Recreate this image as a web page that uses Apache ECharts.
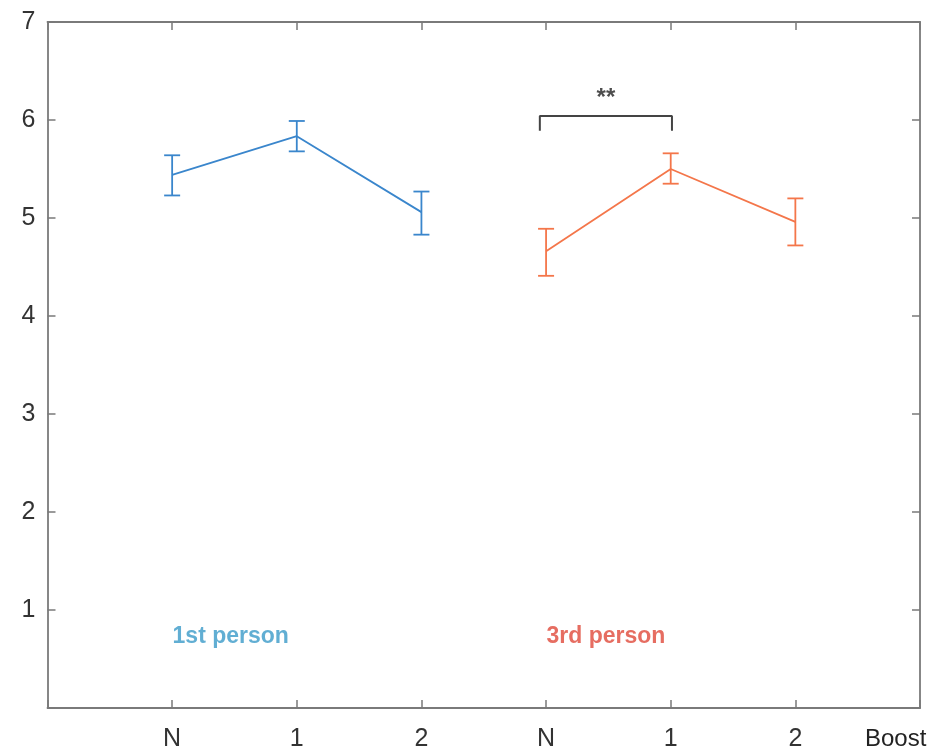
<!DOCTYPE html>
<html>
<head>
<meta charset="utf-8">
<script src="https://cdn.jsdelivr.net/npm/echarts@6/dist/echarts.min.js"></script>
<style>html,body{margin:0;padding:0;background:#fff}#c{width:933px;height:752px}</style>
</head>
<body>
<div id="c"></div>
<script>
// categories (tick labels at x positions 1..6)
const tickLabels = ['N', '1', '2', 'N', '1', '2'];
const firstX = [1, 2, 3];
const thirdX = [4, 5, 6];
// 1st person means and error bar bounds
const firstMean = [5.44, 5.835, 5.06];
const firstLow  = [5.23, 5.68, 4.83];
const firstHigh = [5.64, 5.99, 5.27];
// 3rd person means and error bar bounds
const thirdMean = [4.66, 5.50, 4.96];
const thirdLow  = [4.41, 5.35, 4.72];
const thirdHigh = [4.89, 5.66, 5.20];
// significance bracket (data units)
const bracketX = [3.95, 5.01];
const bracketY = [5.89, 6.04];
const starText = '**';
const starPos = [4.48, 6.22];
const groupLabels = ['1st person', '3rd person'];
const groupLabelPos = [[1.47, 0.73], [4.48, 0.73]];
const yTicks = [1, 2, 3, 4, 5, 6, 7];

const BLUE = '#3a86cc', ORANGE = '#f4764a';
const AXIS = '#7a7a7a';
const LABEL_FONT = 'Liberation Sans, Arial, sans-serif';

function errData(xs, lo, hi) { return xs.map((x, i) => [x, lo[i], hi[i]]); }
function errSeries(xs, lo, hi, color) {
  return {
    type: 'custom', xAxisIndex: 0, yAxisIndex: 0, z: 3,
    data: errData(xs, lo, hi),
    renderItem: function (params, api) {
      const x = api.value(0);
      const a = api.coord([x, api.value(1)]);
      const b = api.coord([x, api.value(2)]);
      const w = 8;
      const st = { stroke: color, lineWidth: 1.8 };
      return { type: 'group', children: [
        { type: 'line', shape: { x1: a[0], y1: a[1], x2: b[0], y2: b[1] }, style: st },
        { type: 'line', shape: { x1: a[0] - w, y1: a[1], x2: a[0] + w, y2: a[1] }, style: st },
        { type: 'line', shape: { x1: b[0] - w, y1: b[1], x2: b[0] + w, y2: b[1] }, style: st }
      ]};
    }
  };
}

const chart = echarts.init(document.getElementById('c'), null, { renderer: 'canvas' });
const tickCommon = { show: true, inside: true, length: 8, lineStyle: { color: AXIS, width: 1.5 } };
chart.setOption({
  animation: false,
  grid: { left: 47.5, right: 13, top: 22, bottom: 40.5, containLabel: false },
  xAxis: [
    { type: 'value', min: 0, max: 7, interval: 1, position: 'bottom',
      axisLine: { show: true, lineStyle: { color: AXIS, width: 1.8 } },
      axisTick: tickCommon, splitLine: { show: false },
      axisLabel: { margin: 19, fontSize: 25, color: '#333', fontFamily: LABEL_FONT,
        formatter: v => (v >= 1 && v <= 6) ? tickLabels[v - 1] : '' } },
    { type: 'value', min: 0, max: 7, interval: 1, position: 'top',
      axisLine: { show: true, onZero: false, lineStyle: { color: AXIS, width: 1.8 } },
      axisTick: tickCommon, axisLabel: { show: false }, splitLine: { show: false } }
  ],
  yAxis: [
    { type: 'value', min: 0, max: 7, interval: 1, position: 'left',
      axisLine: { show: true, lineStyle: { color: AXIS, width: 1.8 } },
      axisTick: tickCommon, splitLine: { show: false },
      axisLabel: { margin: 12, fontSize: 25, color: '#333', fontFamily: LABEL_FONT,
        formatter: v => yTicks.indexOf(v) >= 0 ? String(v) : '' } },
    { type: 'value', min: 0, max: 7, interval: 1, position: 'right',
      axisLine: { show: true, onZero: false, lineStyle: { color: AXIS, width: 1.8 } },
      axisTick: tickCommon, axisLabel: { show: false }, splitLine: { show: false } }
  ],
  graphic: [
    { type: 'text', left: 865, top: 727,
      style: { text: 'Boost', fontSize: 24, fill: '#222', fontFamily: 'Liberation Sans Narrow, Arial Narrow, sans-serif' } }
  ],
  series: [
    { type: 'line', data: firstX.map((x, i) => [x, firstMean[i]]), symbol: 'none',
      lineStyle: { color: BLUE, width: 1.8 }, z: 3 },
    errSeries(firstX, firstLow, firstHigh, BLUE),
    { type: 'line', data: thirdX.map((x, i) => [x, thirdMean[i]]), symbol: 'none',
      lineStyle: { color: ORANGE, width: 1.8 }, z: 3 },
    errSeries(thirdX, thirdLow, thirdHigh, ORANGE),
    { type: 'line', symbol: 'none', z: 3,
      data: [[bracketX[0], bracketY[0]], [bracketX[0], bracketY[1]], [bracketX[1], bracketY[1]], [bracketX[1], bracketY[0]]],
      lineStyle: { color: '#444', width: 2 } },
    { type: 'scatter', symbolSize: 0, data: [starPos],
      label: { show: true, formatter: starText, position: 'inside', fontSize: 24, fontWeight: 'bold', color: '#222',
        fontFamily: LABEL_FONT } },
    { type: 'scatter', symbolSize: 0,
      data: groupLabels.map((t, i) => ({ value: groupLabelPos[i], name: t,
        label: { color: i === 0 ? '#3a9ac8' : '#e0493a' } })),
      label: { show: true, position: 'inside', fontSize: 23, fontWeight: 'bold',
        fontFamily: 'Liberation Sans Narrow, Arial Narrow, sans-serif',
        formatter: p => p.name } }
  ]
});
</script>
</body>
</html>
